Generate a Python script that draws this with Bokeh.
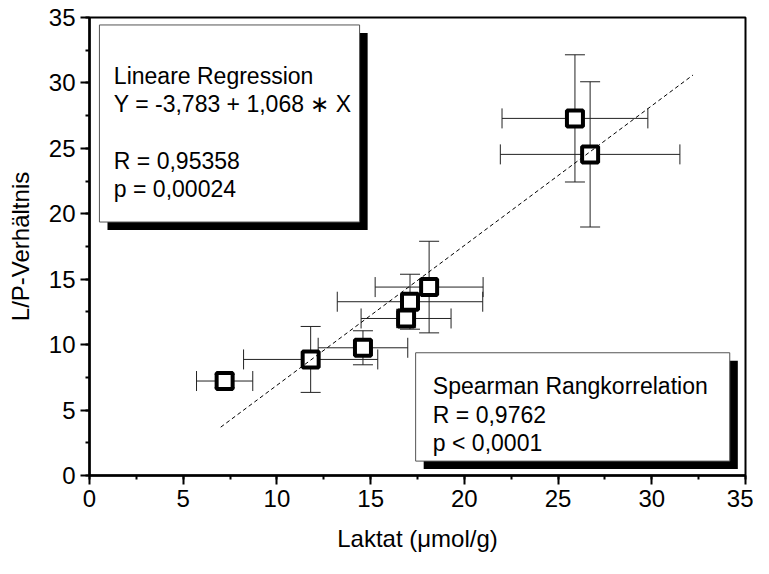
from bokeh.plotting import figure
from bokeh.models import (Range1d, SingleIntervalTicker, Whisker, TeeHead,
                          ColumnDataSource, BoxAnnotation, Label)
from bokeh.embed import file_html
from bokeh.resources import INLINE

# ---- data ----
laktat = [7.21, 11.80, 14.59, 16.89, 17.10, 18.12, 25.90, 26.71]
laktat_err = [1.50, 3.58, 2.39, 2.40, 3.88, 2.88, 3.89, 4.79]
lp_ratio = [7.22, 8.87, 9.76, 12.00, 13.28, 14.40, 27.29, 24.54]
lp_err = [0.50, 2.52, 1.30, 0.70, 2.10, 3.50, 4.86, 5.55]

reg_intercept = -3.783
reg_slope = 1.068
reg_x = [7.0, 32.2]

box1_lines = ["Lineare Regression", "Y = -3,783 + 1,068 \u2217 X", "R = 0,95358", "p = 0,00024"]
box2_lines = ["Spearman Rangkorrelation", "R = 0,9762", "p < 0,0001"]

x_label = "Laktat (\u03bcmol/g)"
y_label = "L/P-Verh\u00e4ltnis"

FONT = "Liberation Sans"

p = figure(width=753, height=558, output_backend="svg", toolbar_location=None,
           x_range=Range1d(0, 35), y_range=Range1d(0, 35),
           min_border_left=89, min_border_right=8, min_border_top=17, min_border_bottom=83)
p.grid.visible = False
p.background_fill_color = "white"
p.border_fill_color = "white"
p.outline_line_color = "black"
p.outline_line_width = 2

for ax in (p.xaxis[0], p.yaxis[0]):
    ax.ticker = SingleIntervalTicker(interval=5, num_minor_ticks=2)
    ax.axis_line_width = 2.5
    ax.axis_line_color = "black"
    ax.major_tick_line_width = 2
    ax.major_tick_line_color = "black"
    ax.major_tick_in = 0
    ax.major_tick_out = 9
    ax.minor_tick_line_width = 2
    ax.minor_tick_line_color = "black"
    ax.minor_tick_in = 0
    ax.minor_tick_out = 4
    ax.major_label_text_font = FONT
    ax.major_label_text_font_size = "24px"
    ax.major_label_text_color = "black"
    ax.major_label_standoff = 5
    ax.axis_label_text_font = FONT
    ax.axis_label_text_font_size = "24px"
    ax.axis_label_text_font_style = "normal"
    ax.axis_label_text_color = "black"

p.xaxis.axis_label = x_label
p.yaxis.axis_label = y_label
p.xaxis.axis_label_standoff = 15
p.yaxis.axis_label_standoff = 12

src = ColumnDataSource(dict(
    x=laktat, y=lp_ratio,
    xl=[a - e for a, e in zip(laktat, laktat_err)],
    xu=[a + e for a, e in zip(laktat, laktat_err)],
    yl=[a - e for a, e in zip(lp_ratio, lp_err)],
    yu=[a + e for a, e in zip(lp_ratio, lp_err)],
))

ERR_COLOR = "#222222"
wx = Whisker(source=src, base="y", lower="xl", upper="xu", dimension="width",
             line_color=ERR_COLOR, line_width=1,
             upper_head=TeeHead(size=20, line_color=ERR_COLOR, line_width=1),
             lower_head=TeeHead(size=20, line_color=ERR_COLOR, line_width=1))
wy = Whisker(source=src, base="x", lower="yl", upper="yu", dimension="height",
             line_color=ERR_COLOR, line_width=1,
             upper_head=TeeHead(size=20, line_color=ERR_COLOR, line_width=1),
             lower_head=TeeHead(size=20, line_color=ERR_COLOR, line_width=1))
p.add_layout(wx)
p.add_layout(wy)

p.scatter("x", "y", source=src, marker="square", size=16, line_width=4,
          line_color="black", fill_color="white")

reg_y = [reg_intercept + reg_slope * v for v in reg_x]
p.line(reg_x, reg_y, line_color="black", line_width=1, line_dash="4 3")

# text boxes with drop shadow
def shadow_box(l, r, t, b):
    dx, dy = 0.43, 0.61
    p.add_layout(BoxAnnotation(left=l + dx, right=r + dx, top=t - dy, bottom=b - dy,
                               fill_color="black", fill_alpha=1.0, line_alpha=0))
    p.add_layout(BoxAnnotation(left=l, right=r, top=t, bottom=b,
                               fill_color="white", fill_alpha=1.0,
                               line_color="#555555", line_alpha=1.0, line_width=1))

shadow_box(0.53, 14.41, 34.43, 19.37)
shadow_box(17.40, 34.16, 9.38, 1.10)

for txt, yy in zip(box1_lines, [30.53, 28.36, 24.03, 21.87]):
    p.add_layout(Label(x=1.30, y=yy, text=txt, text_font=FONT, text_font_size="23px",
                       text_color="black", text_baseline="alphabetic", text_align="left"))
for txt, yy in zip(box2_lines, [6.87, 4.65, 2.50]):
    p.add_layout(Label(x=18.32, y=yy, text=txt, text_font=FONT, text_font_size="23px",
                       text_color="black", text_baseline="alphabetic", text_align="left"))

open("out.html", "w").write(file_html(p, INLINE))
